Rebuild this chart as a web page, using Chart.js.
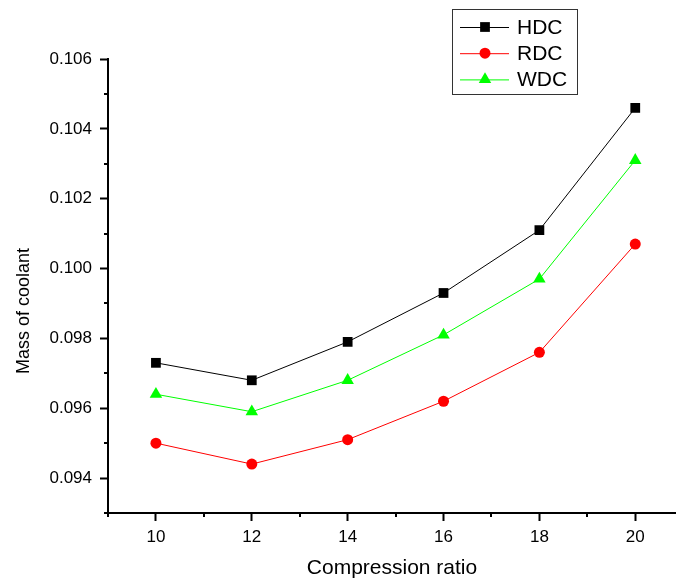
<!DOCTYPE html>
<html>
<head>
<meta charset="utf-8">
<script src="https://cdn.jsdelivr.net/npm/chart.js@4.4.1/dist/chart.umd.min.js"></script>
<style>
  html, body { margin: 0; padding: 0; background: #fff; }
  canvas { display: block; }
</style>
</head>
<body>
<canvas id="chart" width="676" height="581"></canvas>
<script>
// compression ratio vs. mass of coolant for the three fuels
const ratios = [10, 12, 14, 16, 18, 20];
const hdc = [0.0973, 0.0968, 0.0979, 0.0993, 0.1011, 0.1046];
const rdc = [0.0950, 0.0944, 0.0951, 0.0962, 0.0976, 0.1007];
const wdc = [0.0964, 0.0959, 0.0968, 0.0981, 0.0997, 0.1031];

const xMajor = [10, 12, 14, 16, 18, 20];
const xMinor = [9, 11, 13, 15, 17, 19];
const yMajor = [0.094, 0.096, 0.098, 0.100, 0.102, 0.104, 0.106];
const yMinor = [0.093, 0.095, 0.097, 0.099, 0.101, 0.103, 0.105];

const FONT = '"Liberation Sans", Arial, sans-serif';

const toPoints = ys => ys.map((y, i) => ({ x: ratios[i], y: y }));

function series(label, ys, color, style, radius) {
    return {
        label: label,
        data: toPoints(ys),
        borderColor: color,
        backgroundColor: color,
        borderWidth: 1,
        pointStyle: style,
        pointRadius: radius,
        pointHoverRadius: radius,
        pointBorderWidth: 0,
        tension: 0
    };
}

// short minor ticks between the labelled ones
const minorTicks = {
    id: 'minorTicks',
    afterDraw(chart) {
        const { ctx, scales: { x, y } } = chart;
        ctx.save();
        ctx.strokeStyle = '#000';
        ctx.lineWidth = 2;
        ctx.beginPath();
        xMinor.forEach(v => {
            const px = Math.round(x.getPixelForValue(v));
            ctx.moveTo(px, x.top);
            ctx.lineTo(px, x.top + 4);
        });
        yMinor.forEach(v => {
            const py = Math.round(y.getPixelForValue(v));
            ctx.moveTo(y.right, py);
            ctx.lineTo(y.right - 4, py);
        });
        ctx.stroke();
        ctx.restore();
    }
};

// rotated y title
const yTitle = {
    id: 'yTitle',
    afterDraw(chart) {
        const ctx = chart.ctx;
        ctx.save();
        ctx.translate(24, 311);
        ctx.rotate(-Math.PI / 2);
        ctx.fillStyle = '#000';
        ctx.font = '18px ' + FONT;
        ctx.textAlign = 'center';
        ctx.textBaseline = 'middle';
        ctx.fillText('Mass of coolant', 0, 0);
        ctx.restore();
    }
};

// boxed legend with line + marker samples
const legendBox = {
    id: 'legendBox',
    afterDraw(chart) {
        const ctx = chart.ctx;
        ctx.save();
        ctx.strokeStyle = '#333';
        ctx.lineWidth = 1;
        ctx.strokeRect(452.5, 9.5, 125, 85);
        chart.data.datasets.forEach((ds, i) => {
            const y = 27 + i * 26.2;
            ctx.strokeStyle = ds.borderColor;
            ctx.fillStyle = ds.backgroundColor;
            ctx.lineWidth = 1;
            ctx.beginPath();
            ctx.moveTo(460, y + 0.5);
            ctx.lineTo(509, y + 0.5);
            ctx.stroke();
            Chart.helpers.drawPoint(ctx, {
                pointStyle: ds.pointStyle,
                radius: ds.pointRadius,
                borderWidth: 0,
                rotation: 0
            }, 485, y);
            ctx.fillStyle = '#000';
            ctx.font = '21px ' + FONT;
            ctx.textAlign = 'left';
            ctx.textBaseline = 'middle';
            ctx.fillText(ds.label, 517, y + 1);
        });
        ctx.restore();
    }
};

const config = {
    type: 'line',
    data: {
        datasets: [
            series('HDC', hdc, '#000000', 'rect', 6.9),
            series('RDC', rdc, '#ff0000', 'circle', 5.5),
            series('WDC', wdc, '#00ff00', 'triangle', 7.2)
        ]
    },
    options: {
        responsive: false,
        animation: false,
        events: [],
        layout: {
            autoPadding: false,
            padding: { top: 59, right: 0, bottom: 0, left: 0 }
        },
        plugins: {
            legend: { display: false },
            tooltip: { enabled: false }
        },
        scales: {
            x: {
                type: 'linear',
                min: 9,
                max: 20.85,
                afterBuildTicks: s => { s.ticks = xMajor.map(v => ({ value: v })); },
                afterFit: s => {
                    s.height = 68;
                    s.paddingLeft = 0;
                    s.paddingRight = 0;
                },
                border: { display: true, color: '#000', width: 2 },
                grid: {
                    drawOnChartArea: false,
                    drawTicks: true,
                    tickLength: 8,
                    tickWidth: 2,
                    tickColor: '#000'
                },
                ticks: {
                    color: '#000',
                    font: { family: FONT, size: 17 },
                    padding: 6,
                    maxRotation: 0,
                    callback: v => String(v)
                },
                title: {
                    display: true,
                    text: 'Compression ratio',
                    color: '#000',
                    font: { family: FONT, size: 21 },
                    padding: { top: 0, bottom: 0 }
                }
            },
            y: {
                type: 'linear',
                min: 0.093,
                max: 0.106,
                afterBuildTicks: s => { s.ticks = yMajor.map(v => ({ value: v })); },
                afterFit: s => {
                    s.width = 108;
                    s.paddingTop = 0;
                    s.paddingBottom = 0;
                },
                border: { display: true, color: '#000', width: 2 },
                grid: {
                    drawOnChartArea: false,
                    drawTicks: true,
                    tickLength: 8,
                    tickWidth: 2,
                    tickColor: '#000'
                },
                ticks: {
                    color: '#000',
                    font: { family: FONT, size: 17 },
                    padding: 8,
                    callback: v => v.toFixed(3)
                }
            }
        }
    },
    plugins: [minorTicks, yTitle, legendBox]
};

const myChart = new Chart(document.getElementById('chart'), config);
</script>
</body>
</html>
